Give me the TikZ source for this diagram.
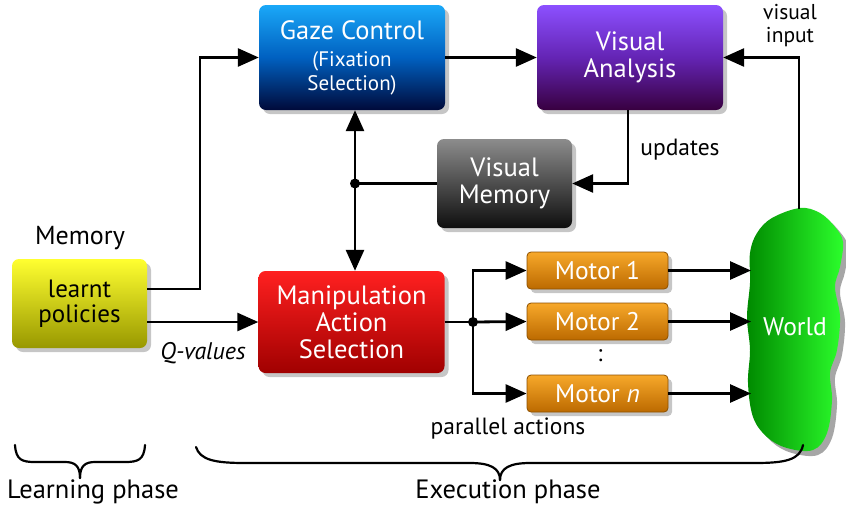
\documentclass[tikz,border=0pt]{standalone}
\usepackage{fontspec}
\setmainfont{PT Sans}
\usetikzlibrary{arrows.meta,shadows,calc}
\definecolor{gazeTop}{HTML}{1AA8F8}
\definecolor{gazeMid}{HTML}{0060C0}
\definecolor{gazeBot}{HTML}{000A3A}
\definecolor{vaTop}{HTML}{8C50FF}
\definecolor{vaMid}{HTML}{6424B4}
\definecolor{vaBot}{HTML}{380040}
\definecolor{vmTop}{HTML}{8C8C8C}
\definecolor{vmBot}{HTML}{0E0E0E}
\definecolor{memTop}{HTML}{FFFF30}
\definecolor{memBot}{HTML}{989800}
\definecolor{manTop}{HTML}{FF2020}
\definecolor{manBot}{HTML}{A00000}
\definecolor{motTop}{HTML}{F7A82A}
\definecolor{motBot}{HTML}{BC6A00}
\definecolor{worldL}{HTML}{008A00}
\definecolor{worldR}{HTML}{2CFF2C}
\tikzset{
  block/.style={rounded corners=7pt, align=center, text=white, inner sep=0pt,
    drop shadow={opacity=0.45, shadow xshift=4pt, shadow yshift=-4pt}},
  bigtxt/.style={font=\fontsize{26.5}{27}\selectfont},
  conn/.style={line width=2.8pt},
  arr/.style={conn, -{Triangle[length=21pt,width=18pt]}},
  darr/.style={conn, {Triangle[length=21pt,width=18pt]}-{Triangle[length=21pt,width=18pt]}},
  junction/.style={circle, fill=black, inner sep=0pt, minimum size=10pt},
  lbl/.style={font=\fontsize{23.5}{24}\selectfont, align=center, inner sep=0pt},
  brace/.style={line width=2.2pt, line cap=round}
}
\begin{document}
\begin{tikzpicture}[x=1pt,y=-1pt]
\useasboundingbox (0,0) rectangle (846,509);

% boxes
\node[block, bigtxt, minimum width=186pt, minimum height=105pt,
  top color=gazeTop, bottom color=gazeBot, middle color=gazeMid] (gaze) at (352,57.5)
  {Gaze Control\\[0pt]{\fontsize{21}{22}\selectfont (Fixation}\\[-3pt]{\fontsize{21}{22}\selectfont Selection)}};
\node[block, bigtxt, minimum width=186pt, minimum height=105pt,
  top color=vaTop, bottom color=vaBot, middle color=vaMid] (va) at (630,57.5)
  {Visual\\Analysis};
\node[block, bigtxt, minimum width=135pt, minimum height=89pt,
  top color=vmTop, bottom color=vmBot] (vm) at (504.5,183.5)
  {Visual\\Memory};
\node[block, minimum width=135pt, minimum height=89pt, text=black,
  font=\fontsize{25}{25}\selectfont,
  top color=memTop, bottom color=memBot] (mem) at (79.5,303.5)
  {learnt\\policies};
\node[block, bigtxt, minimum width=186pt, minimum height=102pt,
  top color=manTop, bottom color=manBot] (manip) at (351.5,322)
  {Manipulation\\Action\\Selection};
\foreach \n/\y/\t in {m1/270.5/Motor 1, m2/321.5/Motor 2, mn/393.5/Motor \textit{n}}{
  \node[block, rounded corners=4pt, minimum width=141pt, minimum height=37pt,
    font=\fontsize{25.5}{26}\selectfont, draw=motBot!75!black, line width=0.8pt,
    top color=motTop, bottom color=motBot] (\n) at (597.5,\y) {\t};
}

% the world
\fill[black, opacity=0.35, xshift=5pt, yshift=-5pt]
  plot[smooth cycle, tension=0.6] coordinates {
  (800,208) (820,213) (835,227) (843,242) (840,267) (835,287) (840,317) (837,350)
  (830,373) (832,400) (827,433) (813,450) (787,448) (767,437) (753,417) (748,383)
  (750,350) (747,317) (750,283) (750,253) (757,233) (772,218)};
\shade[left color=worldL, right color=worldR]
  plot[smooth cycle, tension=0.6] coordinates {
  (800,208) (820,213) (835,227) (843,242) (840,267) (835,287) (840,317) (837,350)
  (830,373) (832,400) (827,433) (813,450) (787,448) (767,437) (753,417) (748,383)
  (750,350) (747,317) (750,283) (750,253) (757,233) (772,218)};
\node[text=white, font=\fontsize{25.5}{26}\selectfont] (world) at (795,327) {World};
\coordinate (worldtop) at (799,209);
\coordinate (worldleft) at (751,0);

% labels
\node[font=\fontsize{26}{26}\selectfont] (memlbl) at (80,238) {Memory};
\node[lbl, font=\fontsize{21.5}{23}\selectfont] (vin) at (790,26) {visual\\input};
\node[lbl] (upd) at (680,150) {updates};
\node[lbl, font=\fontsize{24}{24}\selectfont\itshape] (qv) at (203,353) {Q-values};
\node[lbl] (par) at (508,429) {parallel actions};
\node[lbl] (dots) at (600,356) {:};

% connectors
\coordinate (bendA) at (200,0);
\draw[arr] ($(mem.east)+(0,-14.5)$) -| (bendA |- gaze.west) -- (gaze.west);
\draw[arr] (mem.east |- manip.west) -- (manip.west);
\draw[arr] (gaze.east) -- (va.west);
\draw[arr] ([xshift=-2pt]va.south) |- (vm.east);
\coordinate (jv) at (355,183.5);
\draw[darr] (jv |- gaze.south) -- (jv |- manip.north);
\draw[conn] (vm.west) -- (jv);
\node[junction] at (jv) {};
\coordinate (js) at (473,322);
\draw[conn] (manip.east) -- (js);
\draw[arr] (js) |- (m1.west);
\draw[arr] (js) -- (m2.west);
\draw[arr] (js) |- (mn.west);
\node[junction] at (js) {};
\draw[arr] (m1.east) -- (m1.east -| worldleft);
\draw[arr] (m2.east) -- (m2.east -| worldleft);
\draw[arr] (mn.east) -- (mn.east -| worldleft);
\draw[arr] (worldtop) |- (va.east);

% phase braces
\draw[brace] (15,445) .. controls (16,460) and (22,462) .. (35,462) -- (65,462)
  .. controls (75,462) and (80,466) .. (80,478);
\draw[brace] (145,445) .. controls (144,460) and (138,462) .. (125,462) -- (95,462)
  .. controls (85,462) and (80,466) .. (80,478);
\draw[brace] (196,447) .. controls (200,460) and (215,463) .. (245,463) -- (470,463)
  .. controls (490,463) and (500,468) .. (500,480);
\draw[brace] (803,445) .. controls (800,460) and (785,463) .. (755,463) -- (530,463)
  .. controls (510,463) and (500,468) .. (500,480);
\node[font=\fontsize{26.5}{27}\selectfont] (learn) at (93,492) {Learning phase};
\node[font=\fontsize{26.5}{27}\selectfont] (exec) at (508,492) {Execution phase};
\end{tikzpicture}
\end{document}
